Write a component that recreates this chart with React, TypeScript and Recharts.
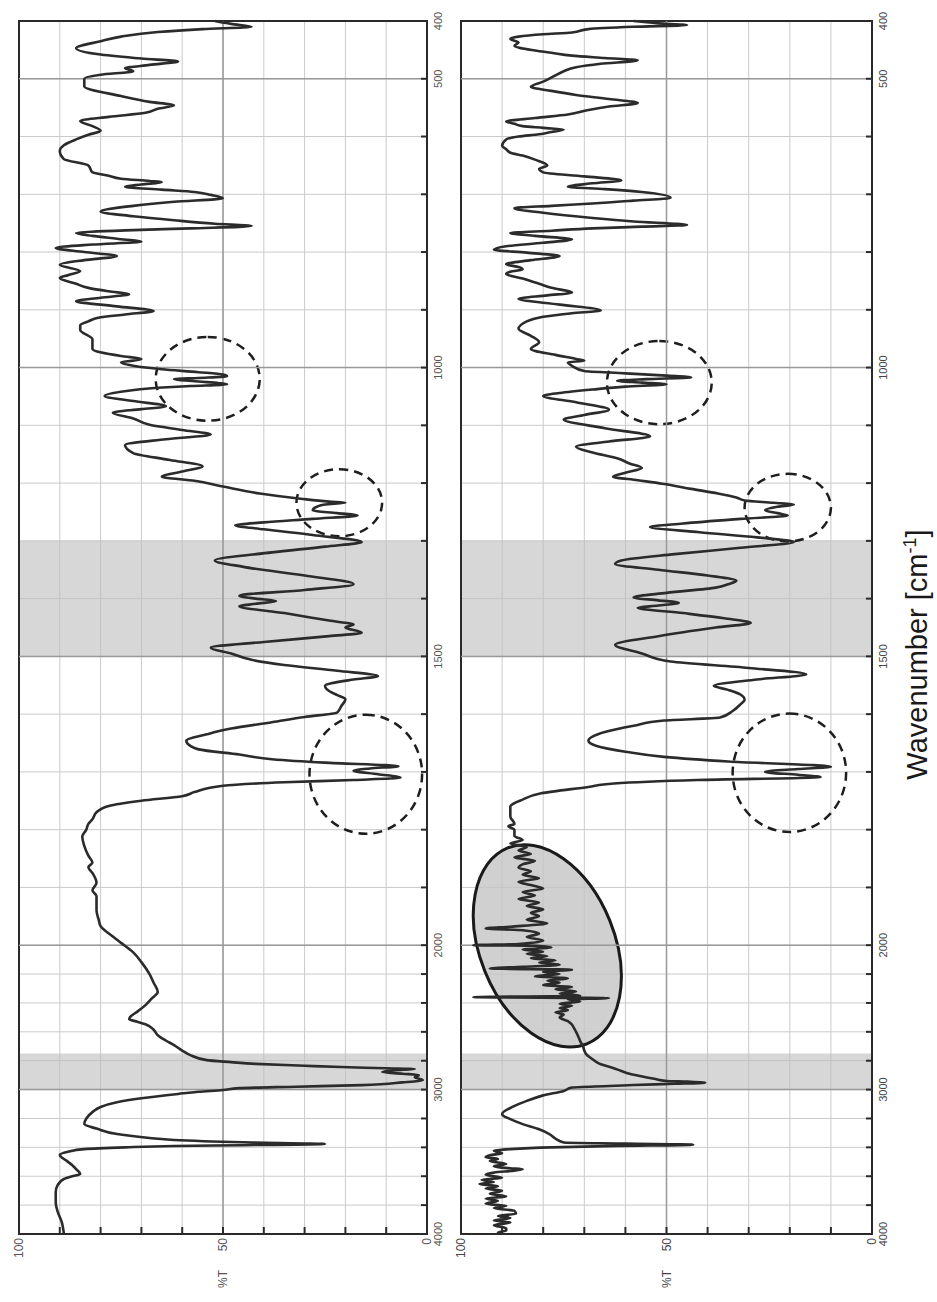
import React from 'react';
import { LineChart, Line, XAxis, YAxis, CartesianGrid, ReferenceArea, ReferenceLine } from 'recharts';

// %T readings, [wavenumber cm-1, %T]
const topSpectrum: [number, number][] = [
  [400, 52], [405, 48], [410, 43], [414, 55], [419, 66], [427, 75], [435, 80], [447, 86], [458, 80], [465, 70],
  [470, 61], [476, 68], [482, 74], [487, 72], [493, 80], [500, 84], [513, 84], [530, 75], [540, 68], [546, 62],
  [552, 66], [559, 69], [566, 78], [573, 85], [582, 82], [590, 80], [597, 83], [605, 86], [615, 89], [625, 90],
  [639, 89], [650, 83], [662, 82], [668, 78], [673, 75], [677, 68], [679, 65], [683, 70], [687, 74], [692, 65],
  [696, 57], [701, 53], [707, 50], [713, 62], [720, 72], [730, 80], [738, 72], [745, 62], [751, 52], [755, 43],
  [759, 58], [762, 72], [767, 86], [772, 82], [777, 76], [782, 70], [787, 82], [793, 91], [800, 84], [807, 76],
  [814, 84], [822, 90], [833, 85], [840, 88], [845, 90], [855, 86], [862, 83], [868, 78], [873, 73], [879, 80],
  [885, 86], [894, 76], [902, 67], [908, 74], [913, 80], [920, 83], [927, 85], [935, 85], [951, 82], [968, 82],
  [980, 75], [985, 70], [988, 72], [991, 75], [997, 72], [1003, 65], [1008, 56], [1012, 50], [1015, 49], [1018, 56],
  [1020, 62], [1024, 56], [1027, 51], [1029, 49], [1032, 58], [1035, 66], [1042, 75], [1049, 79], [1058, 72], [1067, 64],
  [1072, 70], [1078, 77], [1088, 72], [1099, 68], [1108, 60], [1116, 53], [1124, 64], [1134, 74], [1148, 72], [1160, 63],
  [1171, 55], [1180, 60], [1189, 65], [1196, 57], [1206, 50], [1218, 41], [1227, 31], [1232, 24], [1234, 20], [1237, 25],
  [1241, 27], [1247, 28], [1252, 22], [1256, 17], [1262, 28], [1268, 40], [1273, 47], [1280, 40], [1290, 28], [1302, 16],
  [1310, 25], [1320, 38], [1334, 52], [1345, 45], [1360, 30], [1375, 18], [1385, 30], [1395, 46], [1400, 42], [1404, 37],
  [1409, 42], [1413, 46], [1425, 35], [1438, 24], [1445, 18], [1450, 20], [1459, 16], [1465, 24], [1475, 40], [1485, 53],
  [1495, 48], [1506, 43], [1515, 35], [1525, 22], [1534, 12], [1540, 18], [1551, 25], [1560, 24], [1567, 22], [1574, 20],
  [1586, 21], [1597, 22], [1605, 30], [1614, 38], [1625, 48], [1635, 54], [1646, 59], [1655, 58], [1661, 56], [1670, 46],
  [1678, 38], [1684, 25], [1690, 7], [1694, 14], [1698, 18], [1704, 12], [1710, 6.5], [1714, 18], [1718, 35], [1724, 50],
  [1735, 57], [1742, 60], [1750, 70], [1759, 78], [1770, 81], [1782, 82], [1790, 83], [1800, 83.5], [1812, 84.5], [1828, 84],
  [1845, 83], [1857, 82], [1865, 83], [1875, 82], [1892, 81], [1905, 82], [1915, 81], [1940, 81], [1955, 80.5], [1967, 80],
  [1985, 77], [1996, 75], [2050, 72], [2117, 70], [2200, 68], [2260, 67], [2324, 66], [2370, 67.5], [2415, 69], [2460, 71],
  [2490, 72.5], [2512, 73], [2530, 71], [2547, 69], [2585, 67], [2623, 66], [2660, 64], [2692, 62], [2730, 60], [2761, 58],
  [2796, 54], [2810, 48], [2822, 42], [2835, 30], [2844, 21], [2852, 10], [2858, 3], [2866, 8], [2879, 11], [2890, 6],
  [2900, 2], [2915, 3], [2934, 1], [2950, 6], [2969, 16], [2980, 32], [2990, 46], [3003, 50], [3015, 56], [3030, 61],
  [3060, 70], [3087, 76], [3120, 80], [3156, 82], [3200, 83.5], [3239, 84], [3270, 81], [3308, 76], [3335, 68], [3349, 62],
  [3365, 45], [3377, 25], [3385, 45], [3391, 62], [3400, 74], [3412, 84], [3430, 88], [3453, 90], [3490, 88.5], [3522, 87],
  [3550, 86], [3584, 85], [3600, 87], [3619, 89], [3660, 90.5], [3709, 91], [3780, 91], [3847, 90.5], [3920, 89.5], [4000, 89],
];

const bottomSpectrum: [number, number][] = [
  [400, 58], [404, 52], [407, 45], [410, 58], [414, 69], [420, 73], [423, 80], [427, 86], [431, 88], [437, 86],
  [443, 87], [451, 82], [455, 78], [460, 73], [464, 65], [468, 57], [474, 66], [480, 72], [487, 75], [494, 77],
  [505, 80], [514, 83], [521, 78], [528, 72], [535, 64], [542, 57], [548, 64], [554, 69], [562, 74], [568, 82],
  [574, 89], [578, 87], [582, 85], [585, 80], [588, 75], [592, 78], [596, 81], [600, 86], [605, 89], [616, 90],
  [622, 89], [628, 88], [633, 85], [640, 82], [650, 79], [656, 81], [662, 80], [669, 70], [676, 61], [681, 68],
  [687, 74], [691, 65], [696, 56], [706, 49], [711, 58], [716, 68], [720, 78], [724, 87], [732, 80], [741, 68],
  [747, 58], [753, 45], [756, 56], [759, 68], [763, 78], [767, 88], [772, 82], [778, 73], [784, 80], [790, 89],
  [796, 92], [801, 84], [807, 76], [814, 83], [821, 89], [826, 86], [830, 85], [834, 88], [838, 89], [846, 85],
  [855, 81], [862, 78], [870, 73], [875, 79], [881, 86], [891, 76], [901, 66], [906, 73], [912, 80], [920, 84],
  [933, 86], [945, 83], [956, 81], [968, 83], [978, 77], [985, 72], [988, 70], [991, 74], [997, 73], [1006, 70],
  [1010, 60], [1014, 50], [1017, 44], [1020, 55], [1023, 62], [1026, 56], [1029, 50], [1033, 60], [1038, 68], [1044, 76],
  [1049, 80], [1060, 72], [1073, 64], [1082, 70], [1090, 75], [1105, 65], [1119, 54], [1128, 64], [1137, 72], [1147, 68],
  [1157, 62], [1166, 59], [1174, 56], [1182, 60], [1189, 63], [1195, 57], [1201, 51], [1210, 44], [1218, 37.5], [1225, 33],
  [1230, 31], [1234, 24], [1237, 19], [1241, 23], [1247, 26], [1252, 23], [1256, 20.5], [1262, 32], [1270, 46], [1276, 54],
  [1285, 42], [1294, 28], [1302, 19], [1312, 32], [1323, 48], [1334, 61], [1340, 62.5], [1350, 52], [1360, 40], [1369, 33],
  [1375, 35], [1381, 38], [1390, 50], [1398, 58], [1403, 52], [1407, 47], [1412, 52], [1416, 57], [1425, 46], [1434, 36],
  [1442, 29.5], [1450, 38], [1465, 52], [1480, 62.5], [1495, 56], [1509, 49], [1520, 30], [1531, 16], [1540, 28], [1551, 38.5],
  [1558, 35], [1566, 32], [1575, 31], [1583, 32], [1595, 34], [1606, 37], [1611, 50.6], [1620, 58], [1631, 65], [1646, 69],
  [1655, 67], [1665, 60], [1674, 50.6], [1682, 35], [1691, 10], [1695, 18], [1700, 26], [1705, 18], [1709, 12.5], [1714, 42.5],
  [1720, 62.8], [1726, 69], [1737, 80.5], [1748, 85], [1760, 88], [1777, 88], [1790, 87], [1794, 88.5], [1800, 87], [1811, 87],
  [1818, 85], [1824, 88], [1830, 84], [1836, 86], [1842, 83], [1848, 87], [1854, 82], [1860, 85], [1866, 86], [1872, 83],
  [1878, 85], [1884, 81], [1890, 86], [1896, 83], [1902, 80], [1908, 85], [1914, 82], [1920, 86], [1926, 81], [1932, 84],
  [1938, 80], [1944, 83], [1950, 81], [1956, 84], [1962, 79], [1968, 88], [1971, 94], [1974, 85], [1980, 81], [1986, 84],
  [1992, 80], [1998, 86], [2000, 97], [2004, 82], [2015, 78], [2030, 85], [2045, 80], [2060, 84], [2075, 79], [2090, 83],
  [2105, 77], [2120, 81], [2135, 76], [2150, 85], [2161, 93], [2170, 73], [2185, 80], [2200, 76], [2215, 82], [2230, 74],
  [2245, 79], [2260, 76], [2275, 80], [2290, 73], [2305, 77], [2320, 72], [2335, 76], [2350, 71], [2360, 97], [2366, 64],
  [2375, 74], [2390, 71], [2405, 76], [2420, 73], [2435, 76], [2450, 74], [2465, 77], [2480, 75], [2500, 76], [2526, 74],
  [2550, 73], [2575, 72.5], [2600, 72], [2630, 71.5], [2664, 71], [2700, 70.3], [2730, 70], [2756, 69.5], [2790, 68], [2825, 66],
  [2850, 63], [2871, 61], [2890, 59], [2906, 56.5], [2925, 53], [2940, 50], [2945, 45], [2952, 40.6], [2960, 48], [2968, 58],
  [2975, 64], [2986, 73], [3009, 75], [3040, 80], [3078, 84], [3120, 87.5], [3170, 90], [3205, 88], [3239, 85], [3275, 81],
  [3308, 78.5], [3340, 77], [3366, 75], [3374, 60], [3382, 43.5], [3390, 62], [3400, 78], [3412, 88], [3423, 92], [3440, 90],
  [3455, 93], [3469, 94], [3480, 91], [3495, 93], [3515, 89], [3530, 92], [3545, 88], [3552, 85], [3561, 87], [3575, 92],
  [3590, 94], [3610, 90], [3625, 95], [3640, 92], [3653, 95.5], [3670, 91], [3685, 94], [3700, 90], [3722, 93], [3740, 89],
  [3755, 94], [3770, 91], [3791, 94], [3805, 89], [3820, 92], [3840, 87], [3860, 86.6], [3875, 91], [3890, 88], [3906, 92],
  [3920, 88], [3940, 92], [3960, 89], [3975, 89], [3990, 91], [4000, 90],
];

const gridWavenumbers = [
  4000, 3800, 3600, 3400, 3200, 3000, 2800, 2600, 2400, 2200, 2000,
  1900, 1800, 1700, 1600, 1500, 1400, 1300, 1200, 1100, 1000, 900, 800, 700, 600, 500, 400,
];
const labeledWavenumbers = [4000, 3000, 2000, 1500, 1000, 500, 400];
const majorWavenumbers = [500, 1000, 1500, 2000, 3000];
const transmittanceTicks = [0, 10, 20, 30, 40, 50, 60, 70, 80, 90, 100];
const labeledTransmittance = [0, 50, 100];

// shaded regions [from, to] cm-1
const shadedBands: [number, number][] = [[1300, 1500], [2750, 3000]];

// dashed marks: wavenumber span and %T span
const topCircles = [
  { from: 947, to: 1092, low: 41, high: 66.5 },
  { from: 1176, to: 1292, low: 11, high: 32 },
  { from: 1601, to: 1807, low: 1.2, high: 28.8 },
];
const bottomCircles = [
  { from: 954, to: 1098, low: 39, high: 64.5 },
  { from: 1184, to: 1301, low: 10, high: 31 },
  { from: 1599, to: 1804, low: 6.3, high: 33.9 },
];
const noiseEllipse = { from: 1826, to: 2705, low: 61, high: 97 };

// the spectrometer plots 4000-2000 at a quarter of the 2000-400 scale
const toPos = (w: number) => (w >= 2000 ? (4000 - w) / 4 : 500 + (2000 - w));
const fromPos = (p: number) => Math.round(p <= 500 ? 4000 - 4 * p : 2000 - (p - 500));
const POS_MAX = 2100;

const FONT = '"Liberation Sans", Arial, sans-serif';

function makeWavenumberTick(color: string) {
  return (props: any) => {
    const { x, y, payload } = props;
    const w = fromPos(payload.value);
    const show = labeledWavenumbers.includes(w);
    return (
      <g>
        <line x1={x} y1={y} x2={x} y2={y - 6} stroke="#2a2a2a" strokeWidth={2} />
        {show && (
          <text x={x} y={y + 15} textAnchor="middle" fontSize={11} fill={color} fontFamily={FONT}>
            {w}
          </text>
        )}
      </g>
    );
  };
}

function makeTransmittanceTick(color: string) {
  return (props: any) => {
    const { x, y, payload } = props;
    const show = labeledTransmittance.includes(payload.value);
    return (
      <g>
        <line x1={x} y1={y} x2={x + 7} y2={y} stroke="#2a2a2a" strokeWidth={2} />
        {show && (
          <text x={x - 4} y={y} dy={4} textAnchor="end" fontSize={12} fill={color} fontFamily={FONT}>
            {payload.value}
          </text>
        )}
      </g>
    );
  };
}

const dashedCircle = (p: any) => (
  <ellipse
    cx={p.x + p.width / 2}
    cy={p.y + p.height / 2}
    rx={p.width / 2}
    ry={p.height / 2}
    fill="none"
    stroke="#1e1e1e"
    strokeWidth={2.5}
    strokeDasharray="9 6"
  />
);

const TILT = 22;
const tiltedEllipse = (p: any) => {
  const cx = p.x + p.width / 2;
  const cy = p.y + p.height / 2;
  const hw = p.width / 2;
  const hh = p.height / 2;
  const th = (TILT * Math.PI) / 180;
  const c2 = Math.cos(th) ** 2;
  const s2 = Math.sin(th) ** 2;
  const a = Math.sqrt((hw * hw * c2 - hh * hh * s2) / (c2 - s2));
  const b = Math.sqrt((hh * hh * c2 - hw * hw * s2) / (c2 - s2));
  return (
    <ellipse
      cx={cx}
      cy={cy}
      rx={a}
      ry={b}
      transform={`rotate(${-TILT} ${cx} ${cy})`}
      fill="#c4c4c4"
      fillOpacity={0.8}
      stroke="#1a1a1a"
      strokeWidth={3}
    />
  );
};

const renderTitle = (props: any) => {
  const vb = props.viewBox;
  return (
    <text x={vb.x + vb.width / 2 - 27} y={vb.y + 55} textAnchor="middle" fontSize={29} fill="#1a1a1a" fontFamily={FONT}>
      Wavenumber [cm
      <tspan dy={-11} fontSize={18}>-1</tspan>
      <tspan dy={11}>]</tspan>
    </text>
  );
};

interface PanelProps {
  spectrum: [number, number][];
  circles: { from: number; to: number; low: number; high: number }[];
  height: number;
  margin: { top: number; right: number; bottom: number; left: number };
  xAxisHeight: number;
  labelColor: string;
  withEllipse?: boolean;
  withTitle?: boolean;
}

function Panel({ spectrum, circles, height, margin, xAxisHeight, labelColor, withEllipse, withTitle }: PanelProps) {
  const rows = spectrum.map(([w, t]) => ({ pos: toPos(w), t })).sort((a, b) => a.pos - b.pos);
  return (
    <LineChart width={1302} height={height} data={rows} margin={margin}>
      <CartesianGrid stroke="#cacaca" strokeWidth={1} />
      <XAxis
        type="number"
        dataKey="pos"
        domain={[0, POS_MAX]}
        ticks={gridWavenumbers.map(toPos)}
        interval={0}
        axisLine={false}
        tickLine={false}
        tickSize={0}
        tickMargin={0}
        height={xAxisHeight}
        tick={makeWavenumberTick(labelColor)}
        label={withTitle ? { content: renderTitle } : undefined}
      />
      <YAxis
        type="number"
        domain={[0, 100]}
        ticks={transmittanceTicks}
        interval={0}
        axisLine={false}
        tickLine={false}
        tickSize={0}
        tickMargin={0}
        width={58}
        tick={makeTransmittanceTick(labelColor)}
        label={{ value: '%T', position: 'insideLeft', offset: 4, fontSize: 12, fill: labelColor, fontFamily: FONT }}
      />
      {shadedBands.map(([a, b]) => (
        <ReferenceArea key={a} x1={toPos(b)} x2={toPos(a)} y1={0} y2={100} fill="#bdbdbd" fillOpacity={0.6} stroke="none" />
      ))}
      {majorWavenumbers.map((w) => (
        <ReferenceLine key={w} x={toPos(w)} stroke="#999" strokeWidth={1.5} />
      ))}
      <ReferenceLine y={50} stroke="#999" strokeWidth={1.5} />
      {withEllipse && (
        <ReferenceArea
          x1={toPos(noiseEllipse.to)}
          x2={toPos(noiseEllipse.from)}
          y1={noiseEllipse.low}
          y2={noiseEllipse.high}
          shape={tiltedEllipse}
        />
      )}
      <Line type="monotone" dataKey="t" stroke="#2b2b2b" strokeWidth={2.6} dot={false} isAnimationActive={false} />
      {circles.map((c) => (
        <ReferenceArea key={c.from} x1={toPos(c.to)} x2={toPos(c.from)} y1={c.low} y2={c.high} shape={dashedCircle} />
      ))}
      <ReferenceArea x1={0} x2={POS_MAX} y1={0} y2={100} fill="none" stroke="#2a2a2a" strokeWidth={2} />
    </LineChart>
  );
}

export default function App() {
  return (
    <div
      style={{
        position: 'absolute',
        left: 0,
        top: 0,
        width: 937,
        height: 1302,
        overflow: 'hidden',
        background: '#fff',
        fontFamily: FONT,
      }}
    >
      <div
        style={{
          position: 'absolute',
          left: 0,
          top: 0,
          width: 1302,
          height: 937,
          transformOrigin: '0 0',
          transform: 'translate(0px, 1302px) rotate(-90deg)',
        }}
      >
        <div style={{ position: 'absolute', left: 0, top: 0 }}>
          <Panel
            spectrum={topSpectrum}
            circles={topCircles}
            height={460}
            margin={{ top: 19, right: 21, bottom: 8, left: 10 }}
            xAxisHeight={25}
            labelColor="#555"
          />
        </div>
        <div style={{ position: 'absolute', left: 0, top: 440 }}>
          <Panel
            spectrum={bottomSpectrum}
            circles={bottomCircles}
            height={497}
            margin={{ top: 21, right: 21, bottom: 5, left: 10 }}
            xAxisHeight={60}
            labelColor="#444"
            withEllipse
            withTitle
          />
        </div>
      </div>
    </div>
  );
}
